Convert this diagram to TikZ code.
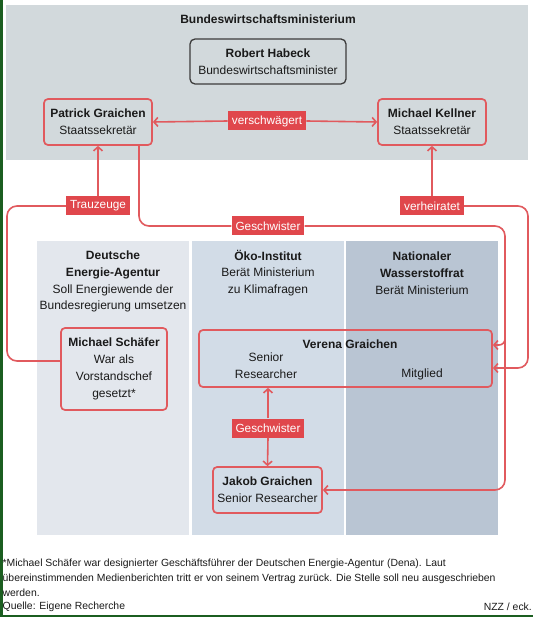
\documentclass[tikz,border=0pt]{standalone}
\usepackage{fontspec}
\setmainfont{Liberation Sans}
\usetikzlibrary{arrows.meta}
\usetikzlibrary{positioning}
\tikzset{>={Straight Barb[length=4pt,width=9pt]}}
\definecolor{nzzred}{HTML}{E0474C}
\definecolor{linkred}{HTML}{E15A5E}
\definecolor{topgray}{HTML}{D2D9DC}
\definecolor{bossgray}{HTML}{3C3C3C}
\definecolor{colA}{HTML}{E3E7ED}
\definecolor{colB}{HTML}{D2DCE7}
\definecolor{colC}{HTML}{B9C5D3}
\definecolor{ink}{HTML}{1A1A1A}
\definecolor{edgegreen}{HTML}{1B5E20}
\newcommand{\bodyfont}{\fontsize{12}{16.8}\selectfont}
\newcommand{\tagfont}{\fontsize{11.8}{13}\selectfont}
\newcommand{\notefont}{\fontsize{10.4}{15}\selectfont}

\begin{document}
\begin{tikzpicture}[x=1pt,y=-1pt,
  person/.style={draw=linkred, line width=1.7pt, rounded corners=4pt, align=center, inner sep=0pt, font=\bodyfont, text=ink},
  boss/.style={draw=bossgray, line width=1.3pt, rounded corners=5pt, align=center, inner sep=0pt, font=\bodyfont, text=ink},
  coltext/.style={align=center, inner sep=0pt, font=\bodyfont, text=ink},
  tag/.style={fill=nzzred, text=white, font=\tagfont, inner xsep=4pt, inner ysep=0pt, minimum height=19pt},
  link/.style={draw=linkred, line width=1.6pt},
  note/.style={inner sep=0pt, font=\notefont, text=ink}]
  \useasboundingbox (0,0) rectangle (533,617);
  \fill[white] (0,0) rectangle (533,617);
  \fill[edgegreen] (0,0) rectangle (2.5,617);
  \fill[edgegreen] (0,614.5) rectangle (533,617);

  % Hintergrund
  \fill[topgray] (6,5) rectangle (528,160);
  \fill[colA] (37,241) rectangle (189,535);
  \fill[colB] (192,241) rectangle (344,535);
  \fill[colC] (346,241) rectangle (498,535);

  % Institutionen
  \node[coltext] (bmwk) at (268,19) {\textbf{Bundeswirtschaftsministerium}};
  \node[coltext] (dena) at (113,281.5) {\textbf{Deutsche}\\\textbf{Energie-Agentur}\\Soll Energiewende der\\Bundesregierung umsetzen};
  \node[coltext] (oeko) at (268,273) {\textbf{Öko-Institut}\\Berät Ministerium\\zu Klimafragen};
  \node[coltext] (nwr) at (422,273) {\textbf{Nationaler}\\\textbf{Wasserstoffrat}\\Berät Ministerium};

  % Personen
  \node[boss, minimum width=156, minimum height=45] (habeck) at (268,61.5) {\textbf{Robert Habeck}\\Bundeswirtschaftsminister};
  \node[person, minimum width=108, minimum height=46] (patrick) at (98,122) {\textbf{Patrick Graichen}\\Staatssekretär};
  \node[person, minimum width=108, minimum height=46] (kellner) at (432,122) {\textbf{Michael Kellner}\\Staatssekretär};
  \node[person, minimum width=106, minimum height=82] (schaefer) at (114,369) {\textbf{Michael Schäfer}\\War als\\Vorstandschef\\gesetzt*};
  \node[person, minimum width=293, minimum height=57] (verena) at (345.5,358.5) {};
  \node[coltext] (verenaname) at (350,344) {\textbf{Verena Graichen}};
  \node[coltext] (verenaoeko) at (266,365.5) {Senior\\Researcher};
  \node[coltext] (verenanwr) at (422,374) {Mitglied};
  \node[person, minimum width=109, minimum height=46] (jakob) at (267.5,490) {\textbf{Jakob Graichen}\\Senior Researcher};

  % Beziehungen
  \node[tag] (verschw) at (267,121) {verschwägert};
  \node[tag] (trau) at (98,206) {Trauzeuge};
  \node[tag] (gesch) at (268,226) {Geschwister};
  \node[tag] (verh) at (432,206) {verheiratet};
  \node[tag] (geschlow) at (268,428) {Geschwister};

  \coordinate (leftrail) at (7,0);
  \coordinate (midrail) at (505,0);
  \coordinate (outrail) at (528,0);
  \coordinate (railbranch) at (505,325);
  \coordinate (patrickout) at ([xshift=41pt]patrick.south);
  \coordinate (schaeferin) at ([yshift=8pt]schaefer.west);
  \coordinate (verenain1) at ([yshift=13.5pt]verena.east);
  \coordinate (verenain2) at ([yshift=-9.5pt]verena.east);

  \draw[link,->] (verschw.west) -- (patrick.east);
  \draw[link,->] (verschw.east) -- (kellner.west);
  \draw[link,->] (trau.north) -- (patrick.south);
  \draw[link,rounded corners=10pt] (trau.west) -| (leftrail |- schaeferin) -- (schaeferin);
  \draw[link,rounded corners=10pt] (patrickout) |- (gesch.west);
  \draw[link,->,rounded corners=10pt] (gesch.east) -| (midrail |- jakob.east) -- (jakob.east);
  \draw[link,->,rounded corners=6pt] (railbranch) |- (verenain1);
  \draw[link,->] (verh.north) -- (kellner.south);
  \draw[link,->,rounded corners=10pt] (verh.east) -| (outrail |- verenain2) -- (verenain2);
  \draw[link,->] (geschlow.north) -- (geschlow.north |- verena.south);
  \draw[link,->] (geschlow.south) -- (jakob.north);

  % Fussnote
  \node[note, anchor=west, align=left] (fussnote) at (2.5,578) {*Michael Schäfer war designierter Geschäftsführer der Deutschen Energie-Agentur (Dena). Laut\\übereinstimmenden Medienberichten tritt er von seinem Vertrag zurück. Die Stelle soll neu ausgeschrieben\\werden.};
  \node[note, anchor=west] (quelle) at (2.5,607) {Quelle: Eigene Recherche};
  \node[note, anchor=east] (credit) at (532,607) {NZZ / eck.};
\end{tikzpicture}
\end{document}
